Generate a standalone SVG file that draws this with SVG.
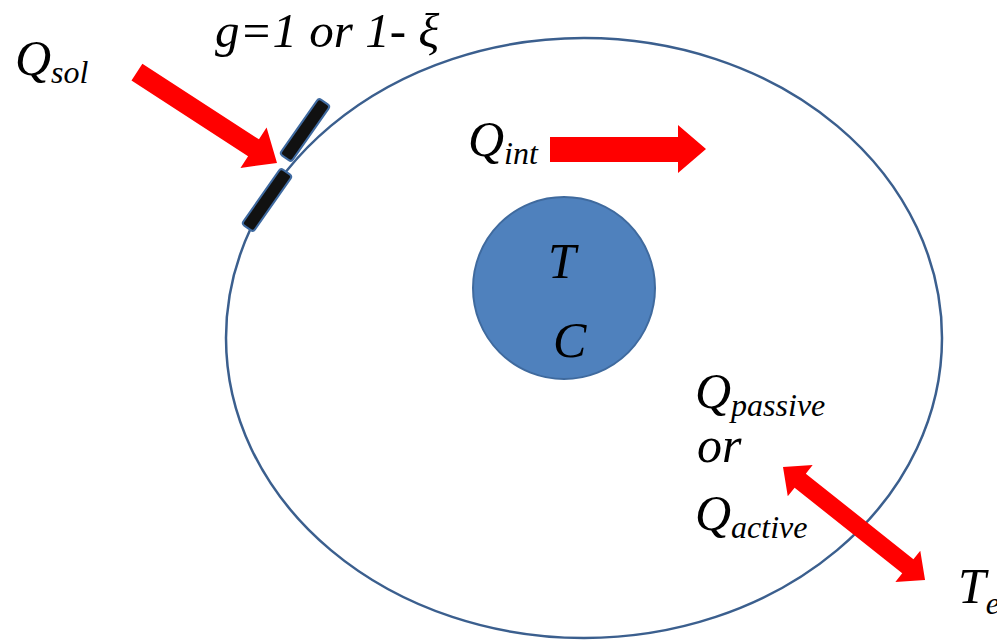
<svg xmlns="http://www.w3.org/2000/svg" width="997" height="641" viewBox="0 0 997 641">
<style>
.arrow{fill:#ff0000}
.win{fill:#111;stroke:#3f6aa0;stroke-width:2}
</style>
<rect width="997" height="641" fill="#fff"/>
<g id="boundary">
<ellipse cx="584" cy="338" rx="358" ry="300" fill="none" stroke="#3b5f8e" stroke-width="2.5"/>
</g>
<g id="windows">
<rect class="win" x="-34" y="-7" width="68" height="14" rx="3" transform="translate(305,130) rotate(-55)"/>
<rect class="win" x="-34" y="-7" width="68" height="14" rx="3" transform="translate(267,200) rotate(-55)"/>
</g>
<g id="core">
<circle cx="564" cy="288" r="91" fill="#4f81bd" stroke="#3f6a9e" stroke-width="2"/>
<text x="548" y="278" font-family="Liberation Serif" font-style="italic" font-size="50">T</text>
<text x="553" y="357" font-family="Liberation Serif" font-style="italic" font-size="50">C</text>
</g>
<g id="connectors">
<polygon class="arrow" points="-167,-10 -28,-10 -28,-24 0,0 -28,24 -28,10 -167,10" transform="translate(277,163) rotate(33)"/>
<polygon class="arrow" points="550,137 678,137 678,125 706,149 678,173 678,162 550,162"/>
<polygon class="arrow" points="0,0 22,-20 22,-9 159.5,-9 159.5,-20 181.5,0 159.5,20 159.5,9 22,9 22,20" transform="translate(783,467) rotate(38.5)"/>
</g>
<g id="labels">
<text x="15" y="75" font-family="Liberation Serif" font-style="italic" font-size="50">Q<tspan font-size="32" dy="8">sol</tspan></text>
<text x="215" y="47" font-family="Liberation Serif" font-style="italic" font-size="49">g=1 or 1- ξ</text>
<text x="468" y="156" font-family="Liberation Serif" font-style="italic" font-size="50">Q<tspan font-size="32" dy="8">int</tspan></text>
<text x="695" y="408" font-family="Liberation Serif" font-style="italic" font-size="50">Q<tspan font-size="32" dy="8">passive</tspan></text>
<text x="697" y="462" font-family="Liberation Serif" font-style="italic" font-size="50">or</text>
<text x="695" y="530" font-family="Liberation Serif" font-style="italic" font-size="50">Q<tspan font-size="32" dy="8">active</tspan></text>
<text x="958" y="603" font-family="Liberation Serif" font-style="italic" font-size="50">T<tspan font-size="32" dy="11">e</tspan></text>
</g>
</svg>
